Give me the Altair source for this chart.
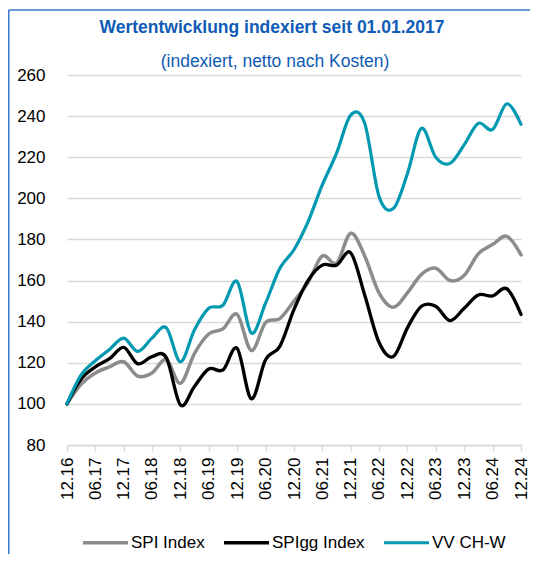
import altair as alt
import pandas as pd

# ---- data ----
quarters = ["12.16", "03.17", "06.17", "09.17", "12.17", "03.18", "06.18", "09.18",
            "12.18", "03.19", "06.19", "09.19", "12.19", "03.20", "06.20", "09.20",
            "12.20", "03.21", "06.21", "09.21", "12.21", "03.22", "06.22", "09.22",
            "12.22", "03.23", "06.23", "09.23", "12.23", "03.24", "06.24", "09.24",
            "12.24"]

spi_index = [100, 109.5, 115, 118, 120.5, 113.5, 115, 121.5, 110, 124.5, 134, 136.5,
             143.5, 126, 139.5, 141.5, 150, 159, 172, 168.5, 183, 172, 154, 147,
             154, 163, 166, 160, 162.5, 173, 177.5, 181.5, 172.5]

spigg_index = [100, 112, 118, 122, 127.5, 119.5, 123, 122.5, 99.5, 108.5, 117, 116.5,
               127, 102.5, 121.5, 128, 146, 160, 167.5, 167.5, 173.5, 153, 130, 123,
               137, 147.5, 147.5, 140.5, 146.5, 153, 152.5, 156, 143.5]

vv_ch_w = [100, 114, 121, 126.5, 132, 125.5, 132, 137, 120.5, 136, 146.5, 148,
           159.5, 134.5, 149, 166, 175, 188.5, 206.5, 222, 240.5, 236.5, 201, 195,
           212, 234, 220, 217, 226, 236.5, 233.5, 246, 236]

series_names = ["SPI Index", "SPIgg Index", "VV CH-W"]
series_colors = ["#8c8c8c", "#000000", "#0099b1"]
series_widths = [3.5, 3.2, 5.5]

tick_labels = ["12.16", "06.17", "12.17", "06.18", "12.18", "06.19", "12.19", "06.20",
               "12.20", "06.21", "12.21", "06.22", "12.22", "06.23", "12.23", "06.24",
               "12.24"]

y_ticks = [80, 100, 120, 140, 160, 180, 200, 220, 240, 260]

title_text = "Wertentwicklung indexiert seit 01.01.2017"
subtitle_text = "(indexiert, netto nach Kosten)"

# ---- build table ----
def to_iso(q):
    m, y = q.split(".")
    return f"20{y}-{m}-01"

rows = []
for name, vals in zip(series_names, [spi_index, spigg_index, vv_ch_w]):
    for q, v in zip(quarters, vals):
        rows.append({"date": to_iso(q), "value": v, "series": name})
df = pd.DataFrame(rows)

def dt(q):
    m, y = q.split(".")
    return alt.DateTime(year=2000 + int(y), month=int(m), date=1, utc=True)

LABEL_FONT = "Liberation Sans"
TITLE_FONT = "Liberation Sans Narrow, Liberation Sans, sans-serif"
GRID = "#d9d9d9"
BLUE = "#0f5bb5"
BORDER = "#3a78c6"

W, H = 454, 370
PAD_L, PAD_T, PAD_R, PAD_B = 59, 67, 9, 109

lines = alt.Chart(df).mark_line(
    interpolate="cardinal", strokeCap="round", strokeJoin="round"
).encode(
    x=alt.X("date:T",
            scale=alt.Scale(type="utc", domain=[dt(quarters[0]), dt(quarters[-1])]),
            axis=alt.Axis(values=[dt(t) for t in tick_labels],
                          labelExpr="utcFormat(datum.value, '%m.%y')",
                          labelAngle=270, title=None, grid=False,
                          domainColor=GRID, domainWidth=1.5, tickColor=GRID,
                          tickWidth=1.5, tickSize=6, labelPadding=6,
                          labelFont=LABEL_FONT, labelFontSize=17, labelColor="#000")),
    y=alt.Y("value:Q",
            scale=alt.Scale(domain=[80, 260], nice=False, zero=False),
            axis=alt.Axis(values=y_ticks, title=None, domain=False, ticks=False,
                          tickSize=0, labelPadding=22, gridColor=GRID, gridWidth=1.5,
                          labelFont=LABEL_FONT, labelFontSize=17, labelColor="#000")),
    color=alt.Color("series:N",
                    scale=alt.Scale(domain=series_names, range=series_colors),
                    legend=alt.Legend(title=None, orient="none", direction="horizontal",
                                      legendX=14, legendY=443, symbolType="stroke",
                                      symbolSize=2025, labelFont=LABEL_FONT,
                                      labelFontSize=17, labelColor="#000",
                                      labelOffset=1, columnPadding=12,
                                      symbolStrokeWidth=4)),
    strokeWidth=alt.StrokeWidth("series:N",
                                scale=alt.Scale(domain=series_names, range=series_widths),
                                legend=None),
)

dummy = pd.DataFrame({"k": [0]})
frame = alt.Chart(dummy).mark_rule(color=BORDER, strokeWidth=1.5)
left_edge = frame.encode(x=alt.value(-PAD_L + 0.75), y=alt.value(-65),
                         y2=alt.value(H + PAD_B))
top_edge = frame.encode(x=alt.value(-PAD_L + 0.75), x2=alt.value(W + PAD_R),
                        y=alt.value(-65))

title = alt.Chart(dummy).mark_text(
    font=TITLE_FONT, fontSize=17.5, fontWeight="bold", color=BLUE,
    align="center", baseline="middle"
).encode(x=alt.value(205), y=alt.value(-47), text=alt.value(title_text))

subtitle = alt.Chart(dummy).mark_text(
    font=TITLE_FONT, fontSize=17.5, color=BLUE, align="center", baseline="middle"
).encode(x=alt.value(208), y=alt.value(-13), text=alt.value(subtitle_text))

chart = alt.layer(lines, left_edge, top_edge, title, subtitle).properties(
    width=W, height=H,
    autosize=alt.AutoSizeParams(type="none"),
    padding={"left": PAD_L, "top": PAD_T, "right": PAD_R, "bottom": PAD_B},
).configure_view(stroke=None)

chart.save("out.html", embed_options={"renderer": "svg", "actions": False})
